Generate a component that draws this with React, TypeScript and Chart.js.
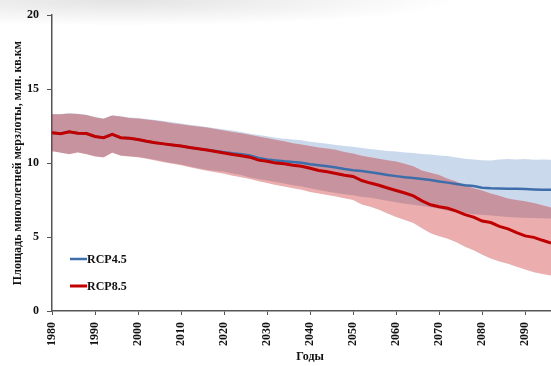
import React, { useEffect, useRef } from "react";
import { Chart, registerables } from "chart.js";

Chart.register(...registerables);

const years = [
  1980, 1982, 1984, 1986, 1988, 1990, 1992, 1994, 1996, 1998,
  2000, 2002, 2004, 2006, 2008, 2010, 2012, 2014, 2016, 2018,
  2020, 2022, 2024, 2026, 2028, 2030, 2032, 2034, 2036, 2038,
  2040, 2042, 2044, 2046, 2048, 2050, 2052, 2054, 2056, 2058,
  2060, 2062, 2064, 2066, 2068, 2070, 2072, 2074, 2076, 2078,
  2080, 2082, 2084, 2086, 2088, 2090, 2092, 2094, 2096,
];

const rcp85Mean = [
  12.05, 11.98, 12.12, 12.02, 12.0, 11.8, 11.72, 11.94, 11.72, 11.68,
  11.6, 11.48, 11.38, 11.3, 11.22, 11.15, 11.05, 10.97, 10.88, 10.78,
  10.68, 10.58, 10.5, 10.4, 10.2, 10.12, 10.0, 9.95, 9.85, 9.78,
  9.65, 9.5, 9.42, 9.3, 9.18, 9.1, 8.82, 8.65, 8.5, 8.32,
  8.15, 7.98, 7.78, 7.45, 7.18, 7.05, 6.95, 6.75, 6.52, 6.35,
  6.08, 5.98, 5.72, 5.55, 5.3, 5.08, 4.98, 4.78, 4.6,
];

const rcp45Mean = [
  12.05, 11.98, 12.12, 12.02, 12.0, 11.8, 11.72, 11.94, 11.72, 11.68,
  11.6, 11.48, 11.38, 11.3, 11.22, 11.15, 11.05, 10.97, 10.9, 10.82,
  10.74, 10.66, 10.6, 10.52, 10.35, 10.25, 10.18, 10.12, 10.08, 10.02,
  9.92, 9.86, 9.78, 9.7, 9.6, 9.52, 9.46, 9.38, 9.3, 9.2,
  9.12, 9.05, 9.0, 8.92, 8.85, 8.75, 8.68, 8.58, 8.5, 8.45,
  8.34, 8.3, 8.28, 8.27, 8.26, 8.25, 8.22, 8.2, 8.2,
];

const rcp85Upper = [
  13.3, 13.3, 13.35, 13.32, 13.25, 13.1, 13.0, 13.22, 13.15, 13.05,
  13.02, 12.95, 12.88, 12.8, 12.7, 12.62, 12.55, 12.48, 12.4, 12.3,
  12.2, 12.1, 12.02, 11.92, 11.8, 11.7, 11.58, 11.48, 11.35, 11.25,
  11.15, 11.05, 10.98, 10.9, 10.75, 10.65, 10.5, 10.4, 10.3, 10.2,
  10.1, 9.95, 9.78, 9.5, 9.35, 9.2, 8.95, 8.75, 8.5, 8.3,
  8.15, 7.95, 7.8, 7.6, 7.5, 7.42, 7.3, 7.15, 7.0,
];

const rcp85Lower = [
  10.8, 10.7, 10.6, 10.72, 10.6, 10.45, 10.38, 10.7, 10.5, 10.45,
  10.4, 10.3, 10.18, 10.05, 9.95, 9.85, 9.72, 9.6, 9.48, 9.38,
  9.28, 9.15, 9.05, 8.93, 8.78, 8.65, 8.52, 8.42, 8.3, 8.2,
  8.05, 7.95, 7.85, 7.75, 7.62, 7.5, 7.2, 7.05, 6.85, 6.6,
  6.35, 6.15, 5.95, 5.6, 5.25, 5.05, 4.88, 4.65, 4.35, 4.1,
  3.8, 3.55, 3.35, 3.2, 3.0, 2.8, 2.62, 2.5, 2.4,
];

const rcp45Upper = [
  13.32, 13.32, 13.37, 13.34, 13.27, 13.12, 13.02, 13.24, 13.17, 13.08,
  13.05, 12.98, 12.92, 12.85, 12.76, 12.68, 12.6, 12.52, 12.44, 12.35,
  12.27, 12.2, 12.1, 11.98, 11.9, 11.82, 11.72, 11.65, 11.6, 11.55,
  11.45, 11.38, 11.3, 11.22, 11.15, 11.1, 11.02, 10.95, 10.88, 10.82,
  10.78, 10.72, 10.68, 10.62, 10.58, 10.52, 10.48, 10.38, 10.3, 10.25,
  10.2, 10.18, 10.25, 10.28, 10.25, 10.28, 10.22, 10.25, 10.22,
];

const rcp45Lower = [
  10.82, 10.72, 10.62, 10.74, 10.62, 10.47, 10.4, 10.72, 10.52, 10.47,
  10.42, 10.33, 10.22, 10.1, 10.0, 9.9, 9.78, 9.66, 9.55, 9.48,
  9.42, 9.3, 9.2, 9.02, 8.92, 8.82, 8.72, 8.62, 8.5, 8.42,
  8.3, 8.18, 8.08, 7.98, 7.9, 7.82, 7.72, 7.65, 7.55, 7.45,
  7.35, 7.25, 7.18, 7.1, 7.02, 6.92, 6.78, 6.7, 6.62, 6.55,
  6.5, 6.45, 6.4, 6.35, 6.32, 6.3, 6.28, 6.27, 6.25,
];

const xTicks = [1980, 1990, 2000, 2010, 2020, 2030, 2040, 2050, 2060, 2070, 2080, 2090];
const yTicks = [0, 5, 10, 15, 20];

const seriesNames = ["RCP4.5", "RCP8.5"];
const yTitle = "Площадь многолетней мерзлоты, млн. кв.км";
const xTitle = "Годы";

const BLUE = "#3E6EAA";
const RED = "#C00000";
const BLUE_FILL = "rgba(79,129,189,0.3)";
const RED_FILL = "rgba(192,0,0,0.32)";
const AXIS = "#555555";
const FONT = '"Liberation Serif", "Times New Roman", serif';

const pts = (vals: number[]) => years.map((y, i) => ({ x: y, y: vals[i] }));

const customText = {
  id: "customText",
  afterDraw(chart: any) {
    const ctx = chart.ctx;
    const area = chart.chartArea;
    const xs = chart.scales.x;
    ctx.save();
    ctx.fillStyle = "#111";
    ctx.font = `bold 12px ${FONT}`;
    ctx.textAlign = "center";
    ctx.textBaseline = "middle";
    // y title
    ctx.save();
    ctx.translate(18, (area.top + area.bottom) / 2);
    ctx.rotate(-Math.PI / 2);
    ctx.fillText(yTitle, 0, 0);
    ctx.restore();
    // x title centered on the full 1980-2100 axis extent
    ctx.fillText(xTitle, xs.getPixelForValue(2040), 357);
    // legend
    const colors = [BLUE, RED];
    const rows = [259, 286];
    ctx.textAlign = "left";
    seriesNames.forEach((n, i) => {
      ctx.strokeStyle = colors[i];
      ctx.lineWidth = i === 0 ? 2.5 : 3;
      ctx.beginPath();
      ctx.moveTo(area.left + 18, rows[i]);
      ctx.lineTo(area.left + 35, rows[i]);
      ctx.stroke();
      ctx.fillText(n, area.left + 35, rows[i] + 0.5);
    });
    ctx.restore();
  },
};

export default function App() {
  const ref = useRef<HTMLCanvasElement | null>(null);
  useEffect(() => {
    if (!ref.current) return;
    const chart = new Chart(ref.current, {
      type: "line",
      data: {
        datasets: [
          {
            label: "RCP8.5",
            data: pts(rcp85Mean),
            borderColor: RED,
            borderWidth: 3,
            pointRadius: 0,
            fill: false,
            order: 0,
            tension: 0,
          },
          {
            label: "RCP4.5",
            data: pts(rcp45Mean),
            borderColor: BLUE,
            borderWidth: 2.5,
            pointRadius: 0,
            fill: false,
            order: 1,
            tension: 0,
          },
          {
            label: "RCP8.5 upper",
            data: pts(rcp85Upper),
            borderWidth: 0,
            borderColor: "rgba(0,0,0,0)",
            backgroundColor: RED_FILL,
            pointRadius: 0,
            fill: "+1",
            order: 2,
          },
          {
            label: "RCP8.5 lower",
            data: pts(rcp85Lower),
            borderWidth: 0,
            borderColor: "rgba(0,0,0,0)",
            pointRadius: 0,
            fill: false,
            order: 2,
          },
          {
            label: "RCP4.5 upper",
            data: pts(rcp45Upper),
            borderWidth: 0,
            borderColor: "rgba(0,0,0,0)",
            backgroundColor: BLUE_FILL,
            pointRadius: 0,
            fill: "+1",
            order: 3,
          },
          {
            label: "RCP4.5 lower",
            data: pts(rcp45Lower),
            borderWidth: 0,
            borderColor: "rgba(0,0,0,0)",
            pointRadius: 0,
            fill: false,
            order: 3,
          },
        ],
      },
      options: {
        responsive: false,
        animation: false,
        layout: { padding: { top: 15, left: 0, right: 0, bottom: 0 } },
        plugins: {
          legend: { display: false },
          tooltip: { enabled: false },
          title: { display: false },
        },
        scales: {
          x: {
            type: "linear",
            min: 1980,
            max: 2096,
            afterBuildTicks: (axis: any) => {
              axis.ticks = xTicks.map((v) => ({ value: v }));
            },
            afterFit: (axis: any) => {
              axis.height = 55;
              axis.paddingLeft = 0;
              axis.paddingRight = 0;
            },
            ticks: {
              minRotation: 90,
              maxRotation: 90,
              padding: 7,
              color: "#111",
              font: { family: FONT, size: 12, weight: "bold" },
              callback: (v: any) => String(v),
            },
            grid: { drawOnChartArea: false, drawTicks: true, tickLength: 4, color: AXIS },
            border: { color: AXIS, width: 1.5 },
          },
          y: {
            min: 0,
            max: 20,
            afterBuildTicks: (axis: any) => {
              axis.ticks = yTicks.map((v) => ({ value: v }));
            },
            afterFit: (axis: any) => {
              axis.width = 52;
            },
            ticks: {
              padding: 8,
              color: "#111",
              font: { family: FONT, size: 12, weight: "bold" },
              callback: (v: any) => String(v),
            },
            grid: { drawOnChartArea: false, drawTicks: true, tickLength: 5, color: AXIS },
            border: { color: AXIS, width: 1.5 },
          },
        },
      },
      plugins: [customText],
    });
    return () => chart.destroy();
  }, []);

  return (
    <div
      style={{
        position: "fixed",
        left: 0,
        top: 0,
        width: 551,
        height: 366,
        background:
          "radial-gradient(ellipse 340px 26px at 120px 0px, rgba(0,0,0,0.11), rgba(0,0,0,0))",
      }}
    >
      <canvas ref={ref} width={551} height={366} />
    </div>
  );
}
